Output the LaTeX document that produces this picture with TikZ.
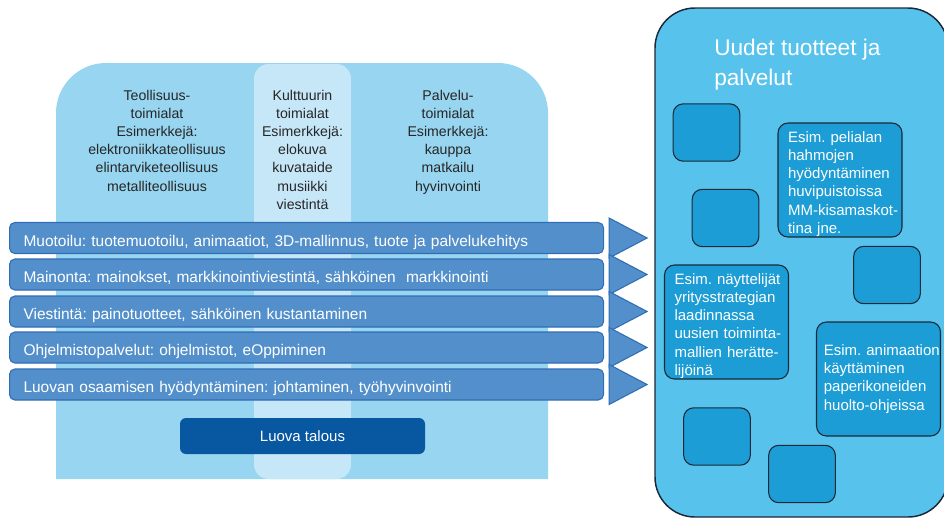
\documentclass[tikz,border=0pt]{standalone}
\usepackage{fontspec}
\setmainfont{Liberation Sans}
\usepackage{tikz}
\definecolor{panel}{HTML}{97D5F1}
\definecolor{strip}{HTML}{C6E7F8}
\definecolor{barfill}{HTML}{5390CB}
\definecolor{barline}{HTML}{2F6DB5}
\definecolor{economy}{HTML}{0757A1}
\definecolor{outcome}{HTML}{57C3EC}
\definecolor{cell}{HTML}{1C9DD5}
\definecolor{edge}{HTML}{1B2838}
\frenchspacing

\begin{document}
\begin{tikzpicture}[x=0.75pt,y=-0.75pt,
	every node/.style={font=\fontsize{11.25}{13.65}\selectfont},
	sector/.style={align=center, text=black!85, inner sep=0pt, anchor=north, font=\fontsize{10.6}{13.65}\selectfont},
	bar/.style={draw=barline, fill=barfill, text=white, rounded corners=4, line width=0.8pt,
		anchor=west, minimum width=445.5pt, minimum height=23.25pt, text width=424.5pt,
		inner xsep=10.5pt, align=left, text height=12pt, text depth=0pt, font=\fontsize{11.6}{13.65}\selectfont},
	tip/.style={draw=barline, fill=barfill, line width=0.8pt},
	cell/.style={draw=edge, fill=cell, rounded corners=7.5, line width=0.8pt,
		minimum width=50pt, minimum height=43pt},
	idea/.style={cell, text=white, align=left, minimum width=93pt, minimum height=85.5pt,
		inner xsep=7.5pt, inner ysep=0pt, text width=78pt},
	lifted/.style={execute at begin node={\rule{0pt}{14pt}}},]

	\useasboundingbox (0,0) rectangle (944,519);

	\fill[panel] (56,479) [rounded corners=37.5] -- (56,63) -- (548,63) [sharp corners] -- (548,479) -- cycle;
	\fill[strip, rounded corners=11] (254,64) rectangle (351,479);

	\node[sector] (industry) at (157,89.5) {Teollisuus-\\toimialat\\Esimerkkejä:\\elektroniikkateollisuus\\elintarviketeollisuus\\metalliteollisuus};
	\node[sector] (culture) at (302.5,89.5) {Kulttuurin\\toimialat\\Esimerkkejä:\\elokuva\\kuvataide\\musiikki\\viestintä};
	\node[sector] (service) at (448,89.5) {Palvelu-\\toimialat\\Esimerkkejä:\\kauppa\\matkailu\\hyvinvointi};

	\node[bar] (b1) at (9,238) {Muotoilu: tuotemuotoilu, animaatiot, 3D-mallinnus, tuote ja palvelukehitys};
	\node[bar] (b2) at (9,274.5) {Mainonta: mainokset, markkinointiviestintä, sähköinen\ \ markkinointi};
	\node[bar] (b3) at (9,311.5) {Viestintä: painotuotteet, sähköinen kustantaminen};
	\node[bar] (b4) at (9,347.5) {Ohjelmistopalvelut: ohjelmistot, eOppiminen};
	\node[bar] (b5) at (9,384.5) {Luovan osaamisen hyödyntäminen: johtaminen, työhyvinvointi};

	\foreach \n in {1,...,5}
		\draw[tip] ([xshift=3.75pt,yshift=15pt]b\n.east) -- ([xshift=32.25pt]b\n.east) -- ([xshift=3.75pt,yshift=-15pt]b\n.east) -- cycle;

	\node[fill=economy, text=white, rounded corners=4.5, minimum width=183.75pt, minimum height=27pt] (economy) at (302.5,436) {Luova talous};

	\draw[draw=edge, fill=outcome, line width=1.1pt, rounded corners=30] (655,8) rectangle (948,517);
	\node[text=white, align=left, anchor=north west, inner sep=0pt, font=\fontsize{17}{22.5}\selectfont] (title) at (714,39) {Uudet tuotteet ja\\palvelut};

	\node[cell] (c1) at (706.5,132.5) {};
	\node[cell] (c2) at (725.5,218) {};
	\node[cell] (c3) at (887,275) {};
	\node[cell] (c4) at (717,436.5) {};
	\node[cell] (c5) at (802,474) {};

	\node[idea, lifted] (games) at (840,180) {\mbox{Esim. pelialan}\\hahmojen\\hyödyntäminen\\huvipuistoissa\\\mbox{MM-kisamaskot-}\\\mbox{tina jne.}};
	\node[idea, lifted] (actors) at (726.5,322) {\mbox{Esim. näyttelijät}\\yritysstrategian\\laadinnassa\\\mbox{uusien toiminta-}\\\mbox{mallien herätte-}\\lijöinä};
	\node[idea, inner xsep=5.5pt, text width=82pt] (animation) at (878.5,379) {\mbox{Esim. animaation}\\käyttäminen\\paperikoneiden\\\mbox{huolto-ohjeissa}};
\end{tikzpicture}
\end{document}
